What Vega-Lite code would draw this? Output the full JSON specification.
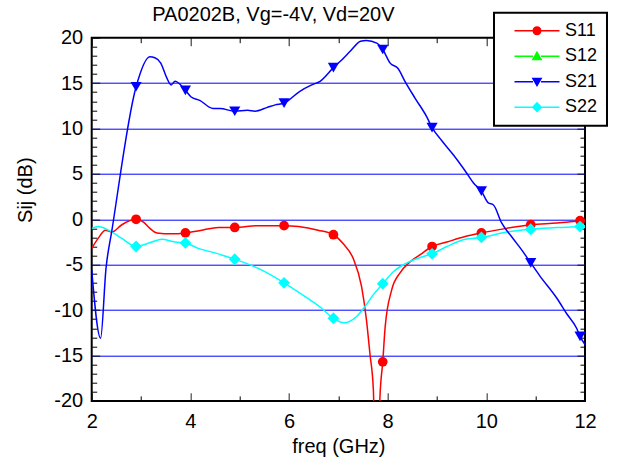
{
  "$schema": "https://vega.github.io/schema/vega-lite/v6.json",
  "autosize": "none",
  "padding": {"left": 91.7, "top": 37.7, "right": 34, "bottom": 68},
  "width": 493.3,
  "height": 363.2,
  "title": {
    "text": "PA0202B, Vg=-4V, Vd=20V",
    "frame": "group",
    "font": "Liberation Sans",
    "fontSize": 20,
    "fontWeight": "normal",
    "color": "black",
    "baseline": "alphabetic",
    "offset": 0,
    "dy": 29,
    "dx": -65
  },
  "config": {
    "view": {"stroke": "black", "strokeWidth": 2},
    "legend": {"strokeWidth": 2},
    "axis": {
      "domain": false,
      "labelFont": "Liberation Sans",
      "labelFontSize": 20,
      "labelColor": "black",
      "titleFont": "Liberation Sans",
      "titleFontSize": 20,
      "titleFontWeight": "normal",
      "titleColor": "black",
      "tickColor": "black",
      "tickWidth": 1,
      "tickSize": -8,
      "labelOverlap": false,
      "labelFlush": false,
      "labelBound": false
    }
  },
  "datasets": {
    "lines": [
      {"s": "S11", "f": 2.0, "v": -3.2}, {"s": "S11", "f": 2.13, "v": -2.1}, {"s": "S11", "f": 2.28, "v": -1.2}, {"s": "S11", "f": 2.41, "v": -1.4}, {"s": "S11", "f": 2.61, "v": -0.6}, {"s": "S11", "f": 2.9, "v": 0.0}, {"s": "S11", "f": 3.05, "v": -0.3}, {"s": "S11", "f": 3.18, "v": -1.0}, {"s": "S11", "f": 3.32, "v": -1.5}, {"s": "S11", "f": 3.62, "v": -1.6}, {"s": "S11", "f": 3.9, "v": -1.5}, {"s": "S11", "f": 4.23, "v": -1.2}, {"s": "S11", "f": 4.57, "v": -0.9}, {"s": "S11", "f": 4.9, "v": -0.9}, {"s": "S11", "f": 5.38, "v": -0.7}, {"s": "S11", "f": 5.9, "v": -0.7}, {"s": "S11", "f": 6.19, "v": -0.8}, {"s": "S11", "f": 6.59, "v": -1.2}, {"s": "S11", "f": 6.9, "v": -1.7}, {"s": "S11", "f": 7.1, "v": -2.7}, {"s": "S11", "f": 7.3, "v": -4.3}, {"s": "S11", "f": 7.47, "v": -7.4}, {"s": "S11", "f": 7.57, "v": -11.1}, {"s": "S11", "f": 7.64, "v": -14.8}, {"s": "S11", "f": 7.71, "v": -18.8}, {"s": "S11", "f": 7.78, "v": -40}, {"s": "S11", "f": 7.84, "v": -20}, {"s": "S11", "f": 7.9, "v": -15.7}, {"s": "S11", "f": 7.95, "v": -11.8}, {"s": "S11", "f": 8.08, "v": -7.8}, {"s": "S11", "f": 8.25, "v": -5.9}, {"s": "S11", "f": 8.45, "v": -4.7}, {"s": "S11", "f": 8.66, "v": -3.9}, {"s": "S11", "f": 8.9, "v": -3.0}, {"s": "S11", "f": 9.2, "v": -2.5}, {"s": "S11", "f": 9.57, "v": -1.9}, {"s": "S11", "f": 9.9, "v": -1.5}, {"s": "S11", "f": 10.41, "v": -1.0}, {"s": "S11", "f": 10.9, "v": -0.6}, {"s": "S11", "f": 11.43, "v": -0.4}, {"s": "S11", "f": 11.9, "v": -0.15}, {"s": "S11", "f": 12.0, "v": -0.1},
      {"s": "S22", "f": 2.0, "v": -1.0}, {"s": "S22", "f": 2.13, "v": -0.8}, {"s": "S22", "f": 2.34, "v": -1.2}, {"s": "S22", "f": 2.61, "v": -2.1}, {"s": "S22", "f": 2.9, "v": -3.0}, {"s": "S22", "f": 3.05, "v": -2.8}, {"s": "S22", "f": 3.22, "v": -2.5}, {"s": "S22", "f": 3.42, "v": -2.2}, {"s": "S22", "f": 3.69, "v": -2.5}, {"s": "S22", "f": 3.9, "v": -2.6}, {"s": "S22", "f": 4.16, "v": -3.2}, {"s": "S22", "f": 4.5, "v": -3.7}, {"s": "S22", "f": 4.9, "v": -4.4}, {"s": "S22", "f": 5.11, "v": -4.8}, {"s": "S22", "f": 5.45, "v": -5.6}, {"s": "S22", "f": 5.9, "v": -7.0}, {"s": "S22", "f": 6.32, "v": -8.5}, {"s": "S22", "f": 6.66, "v": -9.8}, {"s": "S22", "f": 6.9, "v": -10.9}, {"s": "S22", "f": 7.12, "v": -11.4}, {"s": "S22", "f": 7.37, "v": -10.7}, {"s": "S22", "f": 7.54, "v": -9.6}, {"s": "S22", "f": 7.71, "v": -8.3}, {"s": "S22", "f": 7.9, "v": -7.1}, {"s": "S22", "f": 8.11, "v": -5.8}, {"s": "S22", "f": 8.39, "v": -4.8}, {"s": "S22", "f": 8.66, "v": -4.2}, {"s": "S22", "f": 8.9, "v": -3.8}, {"s": "S22", "f": 9.2, "v": -3.0}, {"s": "S22", "f": 9.57, "v": -2.2}, {"s": "S22", "f": 9.9, "v": -2.0}, {"s": "S22", "f": 10.41, "v": -1.4}, {"s": "S22", "f": 10.9, "v": -1.1}, {"s": "S22", "f": 11.43, "v": -0.9}, {"s": "S22", "f": 11.9, "v": -0.8}, {"s": "S22", "f": 12.0, "v": -0.7},
      {"s": "S21", "f": 2.0, "v": -5.6}, {"s": "S21", "f": 2.18, "v": -13.1}, {"s": "S21", "f": 2.29, "v": -5.4}, {"s": "S21", "f": 2.41, "v": -1.2}, {"s": "S21", "f": 2.9, "v": 14.6}, {"s": "S21", "f": 3.18, "v": 17.9}, {"s": "S21", "f": 3.28, "v": 17.8}, {"s": "S21", "f": 3.4, "v": 17.2}, {"s": "S21", "f": 3.52, "v": 15.6}, {"s": "S21", "f": 3.61, "v": 14.8}, {"s": "S21", "f": 3.69, "v": 15.2}, {"s": "S21", "f": 3.9, "v": 14.2}, {"s": "S21", "f": 4.01, "v": 13.5}, {"s": "S21", "f": 4.19, "v": 13.1}, {"s": "S21", "f": 4.46, "v": 12.2}, {"s": "S21", "f": 4.6, "v": 12.2}, {"s": "S21", "f": 4.9, "v": 11.9}, {"s": "S21", "f": 5.16, "v": 12.0}, {"s": "S21", "f": 5.31, "v": 11.9}, {"s": "S21", "f": 5.55, "v": 12.3}, {"s": "S21", "f": 5.72, "v": 12.6}, {"s": "S21", "f": 5.9, "v": 12.8}, {"s": "S21", "f": 6.22, "v": 14.1}, {"s": "S21", "f": 6.46, "v": 14.8}, {"s": "S21", "f": 6.63, "v": 15.2}, {"s": "S21", "f": 6.9, "v": 16.7}, {"s": "S21", "f": 7.04, "v": 17.4}, {"s": "S21", "f": 7.24, "v": 18.5}, {"s": "S21", "f": 7.45, "v": 19.6}, {"s": "S21", "f": 7.57, "v": 19.7}, {"s": "S21", "f": 7.78, "v": 19.4}, {"s": "S21", "f": 7.9, "v": 18.7}, {"s": "S21", "f": 8.05, "v": 17.2}, {"s": "S21", "f": 8.21, "v": 16.6}, {"s": "S21", "f": 8.35, "v": 15.2}, {"s": "S21", "f": 8.56, "v": 13.3}, {"s": "S21", "f": 8.79, "v": 11.3}, {"s": "S21", "f": 8.9, "v": 10.1}, {"s": "S21", "f": 9.09, "v": 8.7}, {"s": "S21", "f": 9.33, "v": 7.1}, {"s": "S21", "f": 9.6, "v": 5.1}, {"s": "S21", "f": 9.74, "v": 4.0}, {"s": "S21", "f": 9.9, "v": 3.1}, {"s": "S21", "f": 10.04, "v": 1.8}, {"s": "S21", "f": 10.14, "v": 1.6}, {"s": "S21", "f": 10.31, "v": -0.4}, {"s": "S21", "f": 10.51, "v": -1.9}, {"s": "S21", "f": 10.72, "v": -3.4}, {"s": "S21", "f": 10.9, "v": -4.8}, {"s": "S21", "f": 11.08, "v": -6.2}, {"s": "S21", "f": 11.43, "v": -8.7}, {"s": "S21", "f": 11.63, "v": -10.4}, {"s": "S21", "f": 11.83, "v": -12.0}, {"s": "S21", "f": 11.9, "v": -12.9}, {"s": "S21", "f": 12.0, "v": -13.8}
    ],
    "markers": [
      {"s": "S11", "f": 2.9, "v": 0.0}, {"s": "S11", "f": 3.9, "v": -1.5}, {"s": "S11", "f": 4.9, "v": -0.9}, {"s": "S11", "f": 5.9, "v": -0.7}, {"s": "S11", "f": 6.9, "v": -1.7}, {"s": "S11", "f": 7.9, "v": -15.7}, {"s": "S11", "f": 8.9, "v": -3.0}, {"s": "S11", "f": 9.9, "v": -1.5}, {"s": "S11", "f": 10.9, "v": -0.6}, {"s": "S11", "f": 11.9, "v": -0.15},
      {"s": "S22", "f": 2.9, "v": -3.0}, {"s": "S22", "f": 3.9, "v": -2.6}, {"s": "S22", "f": 4.9, "v": -4.4}, {"s": "S22", "f": 5.9, "v": -7.0}, {"s": "S22", "f": 6.9, "v": -10.9}, {"s": "S22", "f": 7.9, "v": -7.1}, {"s": "S22", "f": 8.9, "v": -3.8}, {"s": "S22", "f": 9.9, "v": -2.0}, {"s": "S22", "f": 10.9, "v": -1.1}, {"s": "S22", "f": 11.9, "v": -0.8},
      {"s": "S21", "f": 2.9, "v": 14.6}, {"s": "S21", "f": 3.9, "v": 14.2}, {"s": "S21", "f": 4.9, "v": 11.9}, {"s": "S21", "f": 5.9, "v": 12.8}, {"s": "S21", "f": 6.9, "v": 16.7}, {"s": "S21", "f": 7.9, "v": 18.7}, {"s": "S21", "f": 8.9, "v": 10.1}, {"s": "S21", "f": 9.9, "v": 3.1}, {"s": "S21", "f": 10.9, "v": -4.8}, {"s": "S21", "f": 11.9, "v": -12.9}
    ],
    "legend": [
      {"s": "S11"}, {"s": "S12"}, {"s": "S21"}, {"s": "S22"}
    ]
  },
  "resolve": {
    "axis": {"x": "independent", "y": "independent"},
    "scale": {"color": "independent", "shape": "independent", "size": "independent"}
  },
  "layer": [
    {
      "data": {"name": "lines"},
      "mark": {"type": "line", "strokeWidth": 1.5, "clip": true, "interpolate": "monotone"},
      "encoding": {
        "x": {
          "field": "f", "type": "quantitative",
          "scale": {"domain": [2, 12], "nice": false, "zero": false},
          "axis": {
            "orient": "bottom",
            "title": "freq (GHz)",
            "titlePadding": 5,
            "values": [2, 3, 4, 5, 6, 7, 8, 9, 10, 11, 12],
            "labelExpr": "datum.value % 2 === 0 ? '' + datum.value : ''",
            "tickDash": {"condition": {"test": "datum.value % 2 === 0", "value": [1, 0]}, "value": [5, 20]},
            "labelPadding": 19,
            "grid": false
          }
        },
        "y": {
          "field": "v", "type": "quantitative",
          "scale": {"domain": [-20, 20], "nice": false, "zero": false},
          "axis": {
            "orient": "left",
            "title": "Sij (dB)",
            "titleAngle": -90,
            "titleBaseline": "alphabetic",
            "titleX": -60,
            "titleY": 152,
            "values": [-20, -19, -18, -17, -16, -15, -14, -13, -12, -11, -10, -9, -8, -7, -6, -5, -4, -3, -2, -1, 0, 1, 2, 3, 4, 5, 6, 7, 8, 9, 10, 11, 12, 13, 14, 15, 16, 17, 18, 19, 20],
            "labelExpr": "datum.value % 5 === 0 ? '' + datum.value : ''",
            "tickDash": {"condition": {"test": "datum.value % 5 === 0", "value": [1, 0]}, "value": [5, 20]},
            "labelPadding": 17,
            "grid": true,
            "gridColor": "#0000ff",
            "gridWidth": 1,
            "gridOpacity": {"condition": {"test": "datum.value % 5 === 0 && abs(datum.value) < 20", "value": 1}, "value": 0}
          }
        },
        "color": {
          "field": "s", "type": "nominal",
          "scale": {"domain": ["S11", "S12", "S21", "S22"], "range": ["#ff0000", "#00ff00", "#0000ff", "#00ffff"]},
          "legend": null
        }
      }
    },
    {
      "data": {"name": "markers"},
      "mark": {"type": "point", "filled": true, "opacity": 1, "clip": true, "strokeWidth": 0},
      "encoding": {
        "x": {
          "field": "f", "type": "quantitative",
          "scale": {"domain": [2, 12], "nice": false, "zero": false},
          "axis": {
            "orient": "top",
            "title": null,
            "values": [2, 3, 4, 5, 6, 7, 8, 9, 10, 11, 12],
            "labels": false,
            "tickDash": {"condition": {"test": "datum.value % 2 === 0", "value": [1, 0]}, "value": [5, 20]},
            "grid": false
          }
        },
        "y": {
          "field": "v", "type": "quantitative",
          "scale": {"domain": [-20, 20], "nice": false, "zero": false},
          "axis": {
            "orient": "right",
            "title": null,
            "values": [-20, -19, -18, -17, -16, -15, -14, -13, -12, -11, -10, -9, -8, -7, -6, -5, -4, -3, -2, -1, 0, 1, 2, 3, 4, 5, 6, 7, 8, 9, 10, 11, 12, 13, 14, 15, 16, 17, 18, 19, 20],
            "labels": false,
            "tickDash": {"condition": {"test": "datum.value % 5 === 0", "value": [1, 0]}, "value": [5, 20]},
            "grid": false
          }
        },
        "color": {
          "field": "s", "type": "nominal",
          "scale": {"domain": ["S11", "S12", "S21", "S22"], "range": ["#ff0000", "#00ff00", "#0000ff", "#00ffff"]},
          "legend": null
        },
        "shape": {
          "field": "s", "type": "nominal",
          "scale": {"domain": ["S11", "S12", "S21", "S22"], "range": ["circle", "triangle-up", "triangle-down", "diamond"]},
          "legend": null
        },
        "size": {
          "field": "s", "type": "ordinal",
          "scale": {"domain": ["S11", "S12", "S21", "S22"], "range": [95, 140, 140, 110]},
          "legend": null
        }
      }
    },
    {
      "data": {"name": "legend"},
      "mark": {"type": "point", "filled": true, "opacity": 0, "strokeWidth": 0},
      "encoding": {
        "color": {
          "field": "s", "type": "nominal",
          "scale": {"domain": ["S11", "S12", "S21", "S22"], "range": ["#ff0000", "#00ff00", "#0000ff", "#00ffff"]},
          "legend": {
            "orient": "none",
            "legendX": 402.3,
            "legendY": -25,
            "title": null,
            "fillColor": "white",
            "strokeColor": "black",
            "padding": 9,
            "symbolSize": 324,
            "symbolOffset": 25,
            "symbolOpacity": 1,
            "symbolStrokeWidth": 0,
            "labelFont": "Liberation Sans",
            "labelFontSize": 18,
            "labelColor": "black",
            "labelOffset": 19,
            "labelExpr": "datum.label + '\u00a0\u00a0\u00a0\u00a0'",
            "rowPadding": 7.5,
            "encode": {
              "symbols": {"update": {"opacity": {"value": 1}, "fillOpacity": {"value": 1}}}
            }
          }
        },
        "shape": {
          "field": "s", "type": "nominal",
          "scale": {
            "domain": ["S11", "S12", "S21", "S22"],
            "range": [
              "M-2.5,-0.09H-0.45V0.09H-2.5Z M0.45,-0.09H2.5V0.09H0.45Z M0.5,0A0.5,0.5 0 1,1 -0.5,0A0.5,0.5 0 1,1 0.5,0Z",
              "M-2.5,-0.09H-0.45V0.09H-2.5Z M0.45,-0.09H2.5V0.09H0.45Z M0,-0.6L0.6,0.45L-0.6,0.45Z",
              "M-2.5,-0.09H-0.45V0.09H-2.5Z M0.45,-0.09H2.5V0.09H0.45Z M0,0.6L0.6,-0.45L-0.6,-0.45Z",
              "M-2.5,-0.09H-0.45V0.09H-2.5Z M0.45,-0.09H2.5V0.09H0.45Z M0,-0.6L0.58,0L0,0.6L-0.58,0Z"
            ]
          }
        }
      }
    }
  ]
}
